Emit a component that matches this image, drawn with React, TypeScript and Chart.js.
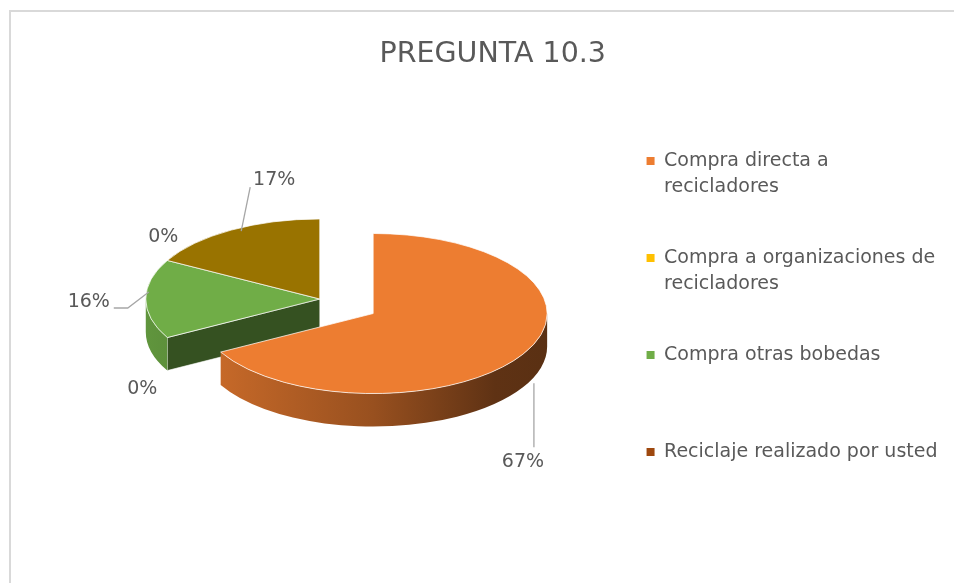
import React, { useEffect, useRef } from "react";
import { Chart, registerables } from "chart.js";

Chart.register(...registerables);

// ---------------- data ----------------
const chartTitle = "PREGUNTA 10.3";
const categories = [
  "Compra directa a recicladores",
  "Compra a organizaciones de recicladores",
  "Compra otras bobedas",
  "Reciclaje realizado por usted",
  "Otros",
];
const percentages = [67, 0, 16, 0, 17];
const sliceColors = ["#ED7D31", "#FFC000", "#70AD47", "#9E480E", "#997300"];
const legendCount = 4; // entries visible in the legend

// ---------------- style ----------------
const FONT = "'DejaVu Sans', sans-serif";
const TEXT = "#595959";
const TILT = 0.46; // vertical squash of the pie (3-D view)
const DEPTH = 33; // thickness of the pie
const explode = [62, 0, 0, 0, 0];
const labelOffsets: number[][] = [
  [0, 108],
  [-25, 52],
  [-57, 3],
  [-4, -23],
  [43, -50],
];
const leaderLines: (number[][] | null)[] = [
  [[11, -79], [11, -15]],
  null,
  [[25, 6], [39, 6], [60, -10]],
  null,
  [[-33, 51], [-24, 7]],
];

function shade(hex: string, f: number) {
  const n = parseInt(hex.slice(1), 16);
  const r = Math.round(((n >> 16) & 255) * f);
  const g = Math.round(((n >> 8) & 255) * f);
  const b = Math.round((n & 255) * f);
  return `rgb(${r},${g},${b})`;
}

function wrapText(ctx: CanvasRenderingContext2D, text: string, maxW: number) {
  const words = text.split(" ");
  const lines: string[] = [];
  let cur = "";
  for (const w of words) {
    const t = cur ? cur + " " + w : w;
    if (cur && ctx.measureText(t).width > maxW) {
      lines.push(cur);
      cur = w;
    } else cur = t;
  }
  if (cur) lines.push(cur);
  return lines;
}

const pie3d = {
  id: "pie3d",
  afterDatasetsUpdate(chart: any) {
    const meta = chart.getDatasetMeta(0);
    const ca = chart.chartArea;
    const cx = (ca.left + ca.right) / 2;
    const cy = (ca.top + ca.bottom) / 2;
    meta.data.forEach((arc: any, i: number) => {
      const d = explode[i] || 0;
      if (!d) return;
      const m = (arc.startAngle + arc.endAngle) / 2;
      arc.x = cx + Math.cos(m) * d;
      arc.y = cy + Math.sin(m) * d;
    });
  },
  beforeDatasetsDraw(chart: any) {
    const ctx: CanvasRenderingContext2D = chart.ctx;
    const meta = chart.getDatasetMeta(0);
    const ca = chart.chartArea;
    const cy = (ca.top + ca.bottom) / 2;
    const sy = (y: number) => cy + (y - cy) * TILT;
    const idx = meta.data
      .map((_: any, i: number) => i)
      .filter((i: number) => meta.data[i].circumference > 0)
      .sort((a: number, b: number) => {
        const ka = sy(meta.data[a].y) + Math.sin((meta.data[a].startAngle + meta.data[a].endAngle) / 2) * 40;
        const kb = sy(meta.data[b].y) + Math.sin((meta.data[b].startAngle + meta.data[b].endAngle) / 2) * 40;
        return ka - kb;
      });
    for (const i of idx) {
      const arc = meta.data[i];
      const x0 = arc.x;
      const y0 = sy(arc.y);
      const R = arc.outerRadius;
      const s = arc.startAngle;
      const e = arc.endAngle;
      const base = sliceColors[i];
      const faces: number[] = [];
      if (Math.cos(s) < -1e-6) faces.push(s);
      if (Math.cos(e) > 1e-6) faces.push(e);
      for (const a of faces) {
        const px = x0 + R * Math.cos(a);
        const py = y0 + R * TILT * Math.sin(a);
        ctx.beginPath();
        ctx.moveTo(x0, y0);
        ctx.lineTo(px, py);
        ctx.lineTo(px, py + DEPTH);
        ctx.lineTo(x0, y0 + DEPTH);
        ctx.closePath();
        ctx.fillStyle = shade(base, 0.47);
        ctx.fill();
        ctx.strokeStyle = "rgba(255,255,255,0.6)";
        ctx.lineWidth = 1;
        ctx.stroke();
      }
      for (let k = -1; k <= 1; k++) {
        const lo = Math.max(s, 2 * Math.PI * k);
        const hi = Math.min(e, 2 * Math.PI * k + Math.PI);
        if (hi <= lo) continue;
        const g = ctx.createLinearGradient(x0 - R, 0, x0 + R, 0);
        g.addColorStop(0, shade(base, 0.86));
        g.addColorStop(0.5, shade(base, 0.64));
        g.addColorStop(0.85, shade(base, 0.4));
        g.addColorStop(1, shade(base, 0.38));
        ctx.beginPath();
        ctx.ellipse(x0, y0, R, R * TILT, 0, lo, hi, false);
        ctx.ellipse(x0, y0 + DEPTH, R, R * TILT, 0, hi, lo, true);
        ctx.closePath();
        ctx.fillStyle = g;
        ctx.fill();
      }
    }
    ctx.save();
    ctx.translate(0, cy);
    ctx.scale(1, TILT);
    ctx.translate(0, -cy);
  },
  afterDatasetsDraw(chart: any) {
    const ctx: CanvasRenderingContext2D = chart.ctx;
    ctx.restore();
    const meta = chart.getDatasetMeta(0);
    const ca = chart.chartArea;
    const cy = (ca.top + ca.bottom) / 2;
    const values = chart.data.datasets[0].data;
    ctx.save();
    ctx.font = `19px ${FONT}`;
    ctx.fillStyle = TEXT;
    ctx.textAlign = "center";
    ctx.textBaseline = "middle";
    meta.data.forEach((arc: any, i: number) => {
      const m = (arc.startAngle + arc.endAngle) / 2;
      const x0 = arc.x;
      const y0 = cy + (arc.y - cy) * TILT;
      const ex = x0 + arc.outerRadius * Math.cos(m);
      const ey = y0 + arc.outerRadius * TILT * Math.sin(m);
      const lx = ex + labelOffsets[i][0];
      const ly = ey + labelOffsets[i][1];
      const ln = leaderLines[i];
      if (ln) {
        ctx.beginPath();
        ln.forEach((p, j) => (j ? ctx.lineTo(lx + p[0], ly + p[1]) : ctx.moveTo(lx + p[0], ly + p[1])));
        ctx.strokeStyle = "#a6a6a6";
        ctx.lineWidth = 1.3;
        ctx.stroke();
      }
      ctx.fillText(`${values[i]}%`, lx, ly);
    });
    ctx.restore();
  },
};

export default function App() {
  const ref = useRef<HTMLCanvasElement>(null);
  useEffect(() => {
    if (!ref.current) return;
    Chart.defaults.font.family = FONT;
    const legendFont = { size: 19, lineHeight: 26 / 19, family: FONT };
    const chart = new Chart(ref.current, {
      type: "pie",
      data: {
        labels: categories,
        datasets: [
          {
            data: percentages,
            backgroundColor: sliceColors,
            borderColor: "#ffffff",
            borderWidth: 1,
            radius: 174,
            clip: false,
          } as any,
        ],
      },
      options: {
        responsive: false,
        animation: false,
        events: [],
        layout: { padding: { left: 38, right: 6.5, top: 0, bottom: 57 } },
        plugins: {
          title: {
            display: true,
            text: chartTitle,
            color: TEXT,
            font: { size: 28.5, weight: "normal", family: FONT },
            padding: { top: 37.4, bottom: 0.4 },
          },
          legend: {
            position: "right",
            align: "start",
            fullSize: false,
            title: {
              display: true,
              text: " ",
              font: { size: 10, lineHeight: 1 },
              padding: { top: 24.4, bottom: 0 },
            },
            labels: {
              boxWidth: 8,
              boxHeight: 8,
              padding: 45,
              color: TEXT,
              font: legendFont,
              generateLabels: (c: any) => {
                const base = (Chart as any).overrides.doughnut.plugins.legend.labels.generateLabels(c);
                const ctx = c.ctx;
                ctx.save();
                ctx.font = `19px ${FONT}`;
                const shown = base.slice(0, legendCount);
                const out = shown.map((it: any, i: number) => {
                  const lines = wrapText(ctx, String(it.text), 283);
                  if (i < shown.length - 1) while (lines.length < 2) lines.push("");
                  return { ...it, text: lines, lineWidth: 0, strokeStyle: "rgba(0,0,0,0)" };
                });
                ctx.restore();
                return out;
              },
            },
          } as any,
          tooltip: { enabled: false },
        },
      },
      plugins: [pie3d],
    });
    return () => chart.destroy();
  }, []);

  return (
    <div style={{ position: "absolute", left: 0, top: 0, width: 954, height: 583, overflow: "hidden", background: "#fff" }}>
      <div
        style={{
          position: "absolute",
          left: 9,
          top: 10,
          width: 1000,
          height: 700,
          border: "2px solid #d9d9d9",
        }}
      />
      <canvas ref={ref} width={954} height={583} style={{ position: "absolute", left: 0, top: 0, display: "block" }} />
    </div>
  );
}
